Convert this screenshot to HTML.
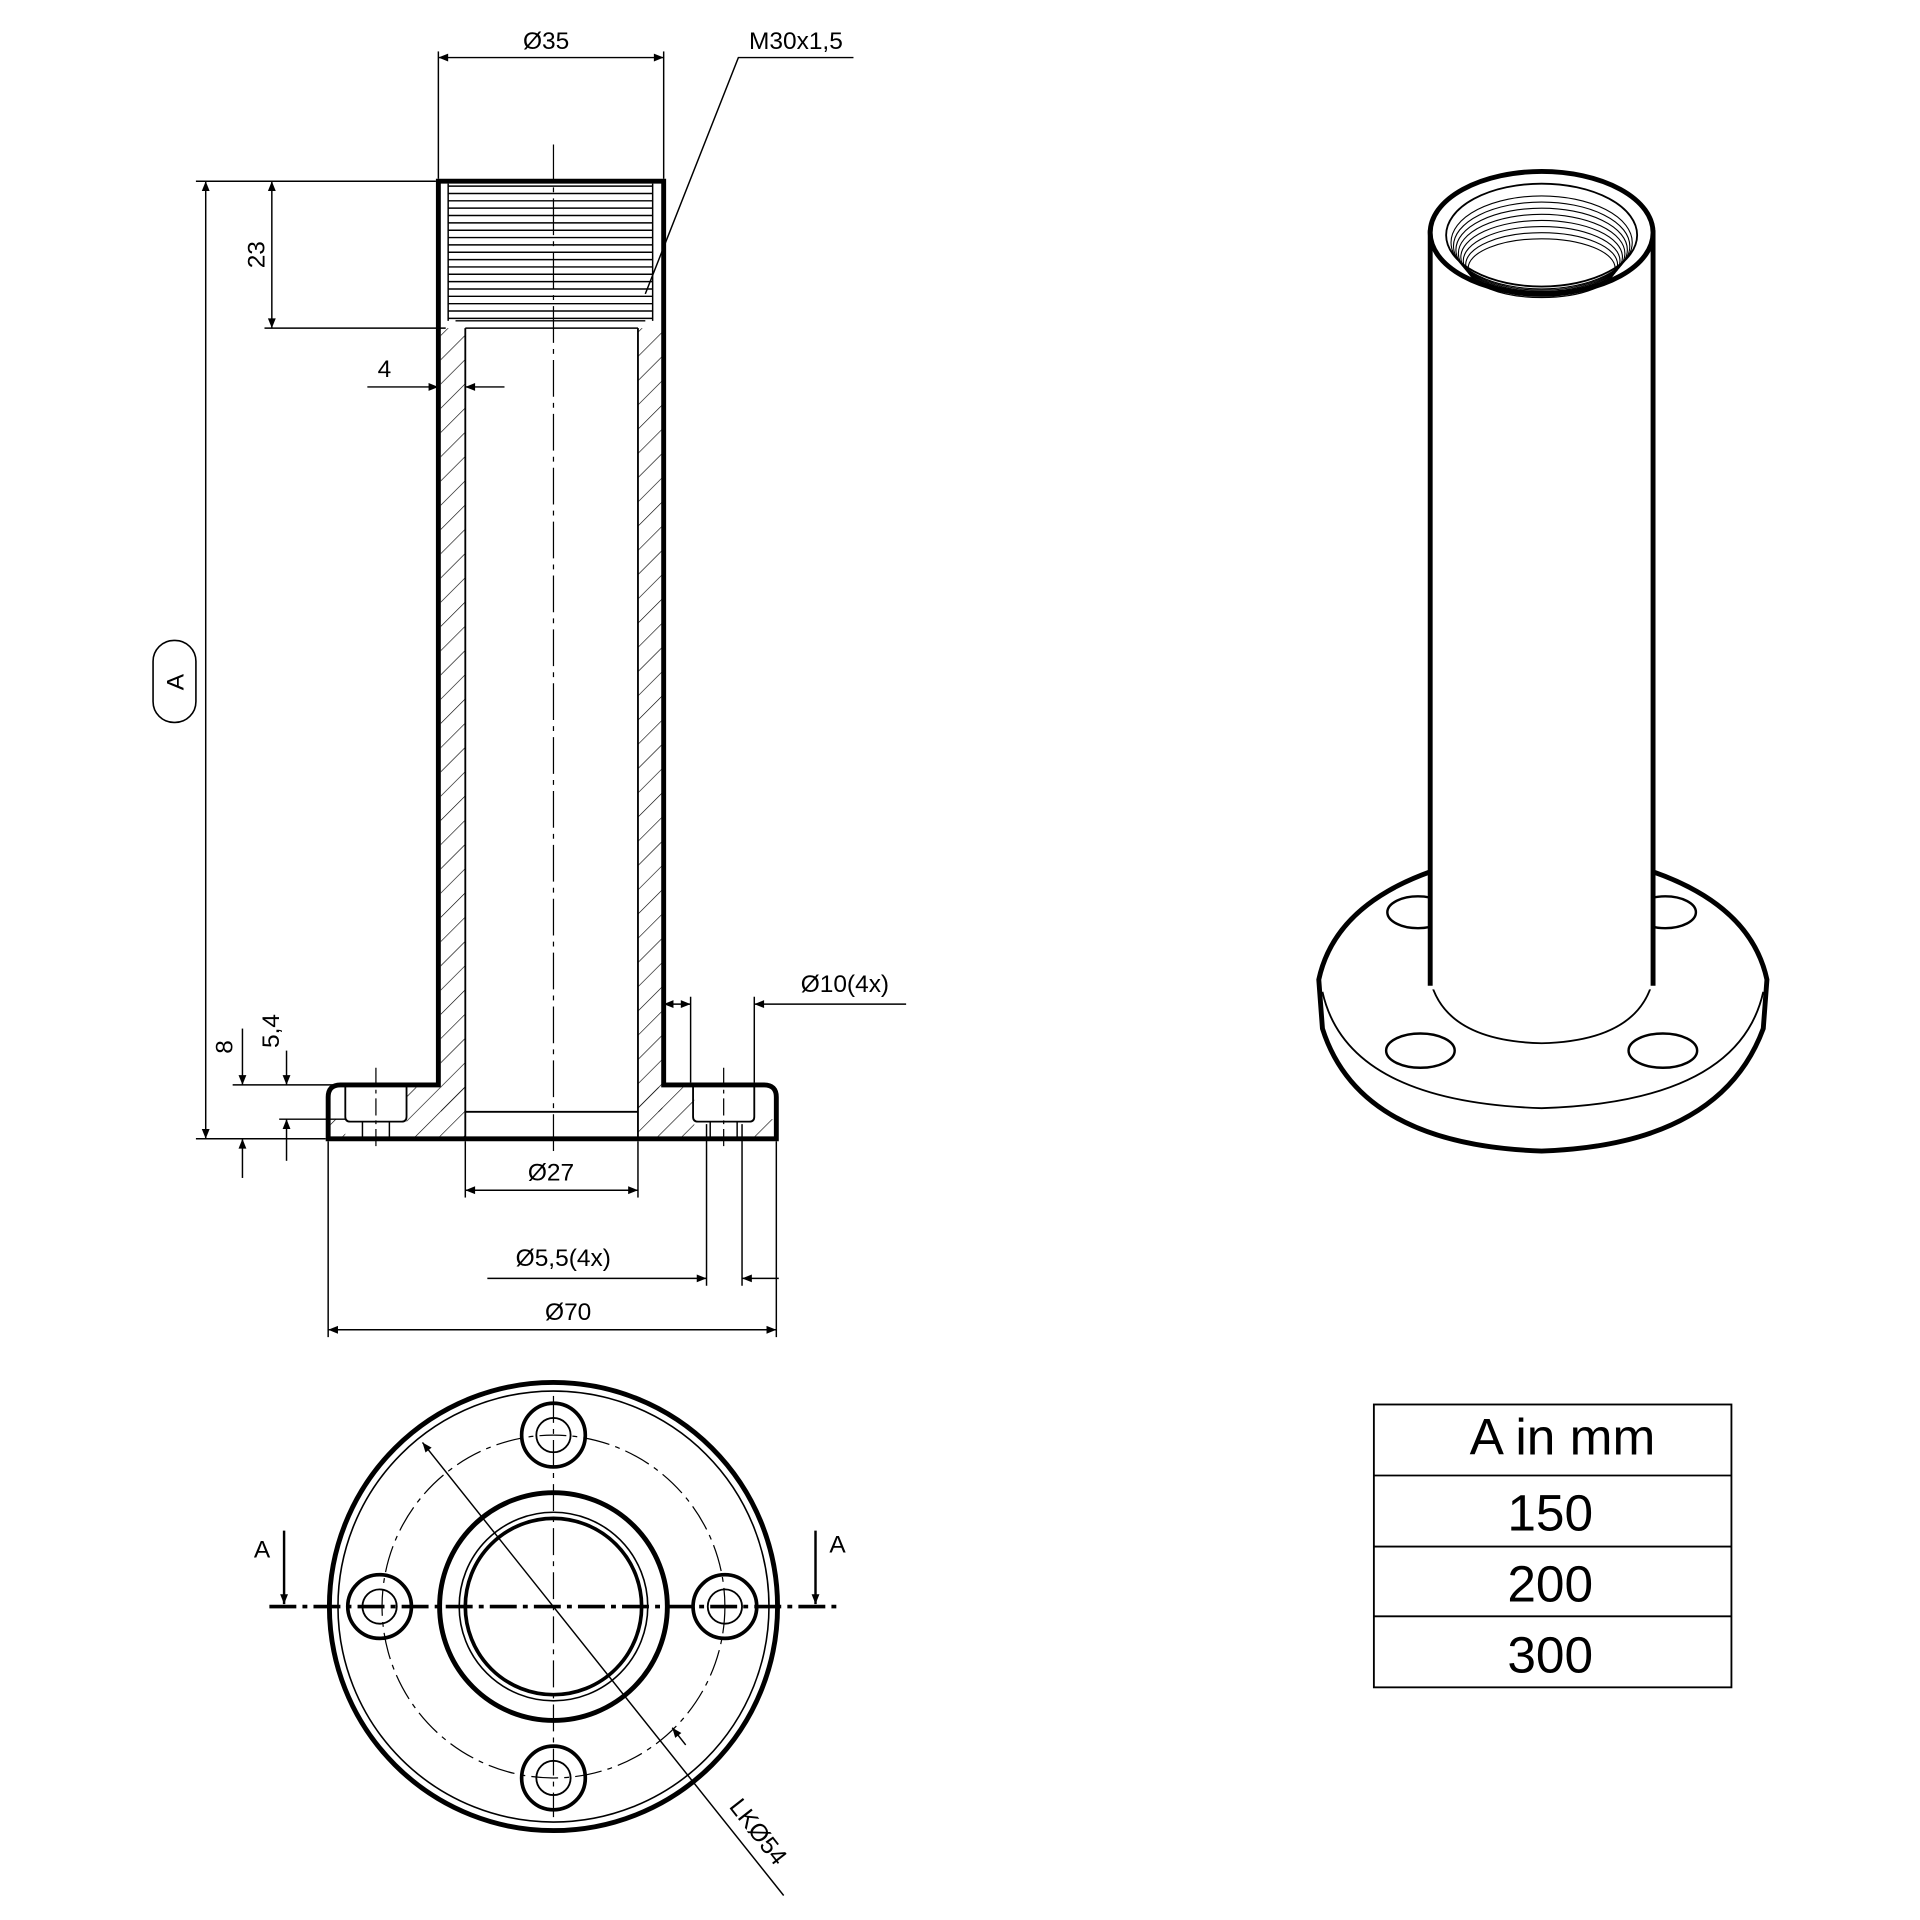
<!DOCTYPE html>
<html><head><meta charset="utf-8"><style>
html,body{margin:0;padding:0;background:#fff;}
svg{display:block;}
text{font-family:"Liberation Sans",sans-serif;fill:#000;}
</style></head><body>
<svg width="1920" height="1920" viewBox="0 0 1568 1568" xmlns="http://www.w3.org/2000/svg">
<defs>
<pattern id="h" patternUnits="userSpaceOnUse" width="14" height="14" patternTransform="rotate(45)">
<line x1="0" y1="0" x2="0" y2="14" stroke="#000" stroke-width="1"/>
</pattern>
<marker id="ar" viewBox="0 0 10 10" refX="10" refY="5" markerWidth="14" markerHeight="8" orient="auto-start-reverse" markerUnits="userSpaceOnUse">
<path d="M0,1 L10,5 L0,9 z" fill="#000"/>
</marker>
</defs>
<rect width="1568" height="1568" fill="#fff"/>

<!-- SECTION VIEW -->
<g fill="none" stroke="#000">
<!-- hatched walls -->
<rect x="360" y="268" width="20" height="640" fill="url(#h)" stroke="none"/>
<rect x="521" y="268" width="20" height="640" fill="url(#h)" stroke="none"/>
<rect x="332" y="888" width="48" height="42" fill="url(#h)" stroke="none"/>
<rect x="521" y="888" width="46" height="42" fill="url(#h)" stroke="none"/>
<rect x="270" y="914" width="12" height="16" fill="url(#h)" stroke="none"/>
<rect x="616" y="914" width="16" height="16" fill="url(#h)" stroke="none"/>
<!-- threads -->
<g stroke-width="1.2">
<line x1="366" y1="152" x2="533" y2="152"/><line x1="366" y1="158" x2="533" y2="158"/>
<line x1="366" y1="164" x2="533" y2="164"/><line x1="366" y1="170" x2="533" y2="170"/>
<line x1="366" y1="176" x2="533" y2="176"/><line x1="366" y1="182" x2="533" y2="182"/>
<line x1="366" y1="188" x2="533" y2="188"/><line x1="366" y1="194" x2="533" y2="194"/>
<line x1="366" y1="200" x2="533" y2="200"/><line x1="366" y1="206" x2="533" y2="206"/>
<line x1="366" y1="212" x2="533" y2="212"/><line x1="366" y1="218" x2="533" y2="218"/>
<line x1="366" y1="224" x2="533" y2="224"/><line x1="366" y1="230" x2="533" y2="230"/>
<line x1="366" y1="236" x2="533" y2="236"/><line x1="366" y1="242" x2="533" y2="242"/>
<line x1="366" y1="248" x2="533" y2="248"/><line x1="366" y1="254" x2="533" y2="254"/>
<line x1="366" y1="260" x2="533" y2="260"/>
<line x1="366" y1="150" x2="366" y2="262"/><line x1="533" y1="150" x2="533" y2="262"/>
<line x1="372" y1="262" x2="527" y2="262"/><line x1="380" y1="268" x2="521" y2="268"/>
</g>
<!-- outline -->
<path d="M358,148 L542,148 L542,886 L624,886 Q634,886 634,896 L634,930 L268,930 L268,896 Q268,886 278,886 L358,886 Z" stroke-width="4"/>
<line x1="380" y1="268" x2="380" y2="930" stroke-width="1.5"/>
<line x1="521" y1="268" x2="521" y2="930" stroke-width="1.5"/>
<line x1="380" y1="908" x2="521" y2="908" stroke-width="1.5"/>
<!-- counterbores -->
<path d="M282,886 L282,912 Q282,916 286,916 L328,916 Q332,916 332,912 L332,886" stroke-width="1.5"/>
<path d="M566,886 L566,912 Q566,916 570,916 L612,916 Q616,916 616,912 L616,886" stroke-width="1.5"/>
<line x1="296" y1="916" x2="296" y2="930" stroke-width="1.2"/><line x1="318" y1="916" x2="318" y2="930" stroke-width="1.2"/>
<line x1="580" y1="916" x2="580" y2="930" stroke-width="1.2"/><line x1="602" y1="916" x2="602" y2="930" stroke-width="1.2"/>
<line x1="307" y1="872" x2="307" y2="940" stroke-width="1" stroke-dasharray="14 4 3 4"/>
<line x1="591" y1="872" x2="591" y2="940" stroke-width="1" stroke-dasharray="14 4 3 4"/>
<!-- centerline -->
<line x1="452" y1="118" x2="452" y2="940" stroke-width="1" stroke-dasharray="30 5 4 5"/>

<!-- dimensions -->
<g stroke-width="1.2">
<line x1="358" y1="42" x2="358" y2="146"/><line x1="542" y1="42" x2="542" y2="146"/>
<line x1="358" y1="47" x2="542" y2="47" marker-start="url(#ar)" marker-end="url(#ar)"/>
<polyline points="527,240 603,47 697,47"/>
<line x1="160" y1="148" x2="356" y2="148"/>
<line x1="216" y1="268" x2="364" y2="268"/>
<line x1="222" y1="148" x2="222" y2="268" marker-start="url(#ar)" marker-end="url(#ar)"/>
<line x1="168" y1="148" x2="168" y2="930" marker-start="url(#ar)" marker-end="url(#ar)"/>
<line x1="160" y1="930" x2="266" y2="930"/>
<line x1="300" y1="316" x2="358" y2="316" marker-end="url(#ar)"/>
<line x1="412" y1="316" x2="380" y2="316" marker-end="url(#ar)"/>
<line x1="190" y1="886" x2="276" y2="886"/>
<line x1="228" y1="914" x2="282" y2="914"/>
<line x1="198" y1="840" x2="198" y2="886" marker-end="url(#ar)"/>
<line x1="198" y1="962" x2="198" y2="930" marker-end="url(#ar)"/>
<line x1="234" y1="858" x2="234" y2="886" marker-end="url(#ar)"/>
<line x1="234" y1="948" x2="234" y2="914" marker-end="url(#ar)"/>
<line x1="564" y1="814" x2="564" y2="884"/><line x1="616" y1="814" x2="616" y2="884"/>
<line x1="542" y1="820" x2="564" y2="820" marker-start="url(#ar)" marker-end="url(#ar)"/>
<line x1="616" y1="820" x2="740" y2="820" marker-start="url(#ar)"/>
<line x1="380" y1="932" x2="380" y2="978"/><line x1="521" y1="932" x2="521" y2="978"/>
<line x1="380" y1="972" x2="521" y2="972" marker-start="url(#ar)" marker-end="url(#ar)"/>
<line x1="577" y1="918" x2="577" y2="1050"/><line x1="606" y1="918" x2="606" y2="1050"/>
<line x1="398" y1="1044" x2="577" y2="1044" marker-end="url(#ar)"/>
<line x1="636" y1="1044" x2="606" y2="1044" marker-end="url(#ar)"/>
<line x1="268" y1="932" x2="268" y2="1092"/><line x1="634" y1="932" x2="634" y2="1092"/>
<line x1="268" y1="1086" x2="634" y2="1086" marker-start="url(#ar)" marker-end="url(#ar)"/>
</g>
<rect x="125" y="523" width="35" height="67" rx="17" stroke-width="1.3"/>
</g>
<g font-size="20">
<text x="446" y="40" text-anchor="middle">Ø35</text>
<text x="650" y="40" text-anchor="middle">M30x1,5</text>
<text x="216" y="208" text-anchor="middle" transform="rotate(-90 216 208)">23</text>
<text x="150" y="557" text-anchor="middle" transform="rotate(-90 150 557)">A</text>
<text x="314" y="308" text-anchor="middle">4</text>
<text x="190" y="855" text-anchor="middle" transform="rotate(-90 190 855)">8</text>
<text x="228" y="842" text-anchor="middle" transform="rotate(-90 228 842)">5,4</text>
<text x="690" y="810" text-anchor="middle">Ø10(4x)</text>
<text x="450" y="964" text-anchor="middle">Ø27</text>
<text x="460" y="1034" text-anchor="middle">Ø5,5(4x)</text>
<text x="464" y="1078" text-anchor="middle">Ø70</text>
</g>

<!-- BOTTOM VIEW -->
<g fill="none" stroke="#000">
<circle cx="452" cy="1312" r="183" stroke-width="4"/>
<circle cx="452" cy="1312" r="176" stroke-width="1.3"/>
<circle cx="452" cy="1312" r="140" stroke-width="1" stroke-dasharray="22 5 4 5"/>
<circle cx="452" cy="1312" r="93" stroke-width="4"/>
<circle cx="452" cy="1312" r="77" stroke-width="1.3"/>
<circle cx="452" cy="1312" r="72" stroke-width="3"/>
<g stroke-width="3">
<circle cx="452" cy="1172" r="26"/><circle cx="310" cy="1312" r="26"/>
<circle cx="592" cy="1312" r="26"/><circle cx="452" cy="1452" r="26"/>
</g>
<g stroke-width="1.5">
<circle cx="452" cy="1172" r="14"/><circle cx="310" cy="1312" r="14"/>
<circle cx="592" cy="1312" r="14"/><circle cx="452" cy="1452" r="14"/>
</g>
<line x1="220" y1="1312" x2="684" y2="1312" stroke-width="3" stroke-dasharray="22 5 4 5"/>
<line x1="452" y1="1140" x2="452" y2="1484" stroke-width="1" stroke-dasharray="22 5 4 5"/>
<line x1="232" y1="1250" x2="232" y2="1310" stroke-width="2" marker-end="url(#ar)"/>
<line x1="666" y1="1250" x2="666" y2="1310" stroke-width="2" marker-end="url(#ar)"/>
<line x1="345" y1="1178" x2="640" y2="1548" stroke-width="1.2" marker-start="url(#ar)"/>
<line x1="560" y1="1425" x2="549" y2="1411" stroke-width="1.2" marker-end="url(#ar)"/>
</g>
<text x="214" y="1272" font-size="20" text-anchor="middle">A</text>
<text x="684" y="1268" font-size="20" text-anchor="middle">A</text>
<text x="614" y="1500" font-size="20" text-anchor="middle" transform="rotate(52 614 1500)">LKØ54</text>

<!-- ISOMETRIC VIEW -->
<g fill="none" stroke="#000">
<path d="M1168,712 Q1090,740 1077,800 L1080,840 Q1110,935 1259,940 Q1405,935 1440,840 L1443,800 Q1430,740 1350,712" stroke-width="4"/>
<path d="M1080,810 Q1100,900 1259,905 Q1420,900 1440,810" stroke-width="1.5"/>
<path d="M1168,800 Q1180,850 1259,852 Q1338,850 1350,800" stroke-width="1.5"/>
<ellipse cx="1158" cy="745" rx="25" ry="13" stroke-width="2"/>
<ellipse cx="1360" cy="745" rx="25" ry="13" stroke-width="2"/>
<ellipse cx="1160" cy="858" rx="28" ry="14" stroke-width="2"/>
<ellipse cx="1358" cy="858" rx="28" ry="14" stroke-width="2"/>
<rect x="1168" y="188" width="182" height="620" fill="#fff" stroke="none"/>
<line x1="1168" y1="188" x2="1168" y2="805" stroke-width="4"/>
<line x1="1350" y1="188" x2="1350" y2="805" stroke-width="4"/>
<ellipse cx="1259" cy="190" rx="91" ry="50" stroke-width="4" fill="#fff"/>
<ellipse cx="1259" cy="192" rx="78" ry="42" stroke-width="1.5"/>
<g stroke-width="0.9">
<ellipse cx="1259" cy="198" rx="74" ry="38"/><ellipse cx="1259" cy="201" rx="72" ry="36"/>
<ellipse cx="1259" cy="204" rx="70" ry="34"/><ellipse cx="1259" cy="207" rx="68" ry="32"/>
<ellipse cx="1259" cy="210" rx="66" ry="30"/><ellipse cx="1259" cy="213" rx="64" ry="28"/>
<ellipse cx="1259" cy="216" rx="62" ry="26"/><ellipse cx="1259" cy="219" rx="60" ry="24"/>
</g>
</g>

<!-- TABLE -->
<g fill="none" stroke="#000" stroke-width="1.5">
<rect x="1122" y="1147" width="292" height="231"/>
<line x1="1122" y1="1205" x2="1414" y2="1205"/>
<line x1="1122" y1="1263" x2="1414" y2="1263"/>
<line x1="1122" y1="1320" x2="1414" y2="1320"/>
</g>
<g font-size="42" text-anchor="middle">
<text x="1276" y="1188">A in mm</text>
<text x="1266" y="1250">150</text>
<text x="1266" y="1308">200</text>
<text x="1266" y="1366">300</text>
</g>
</svg>
</body></html>
